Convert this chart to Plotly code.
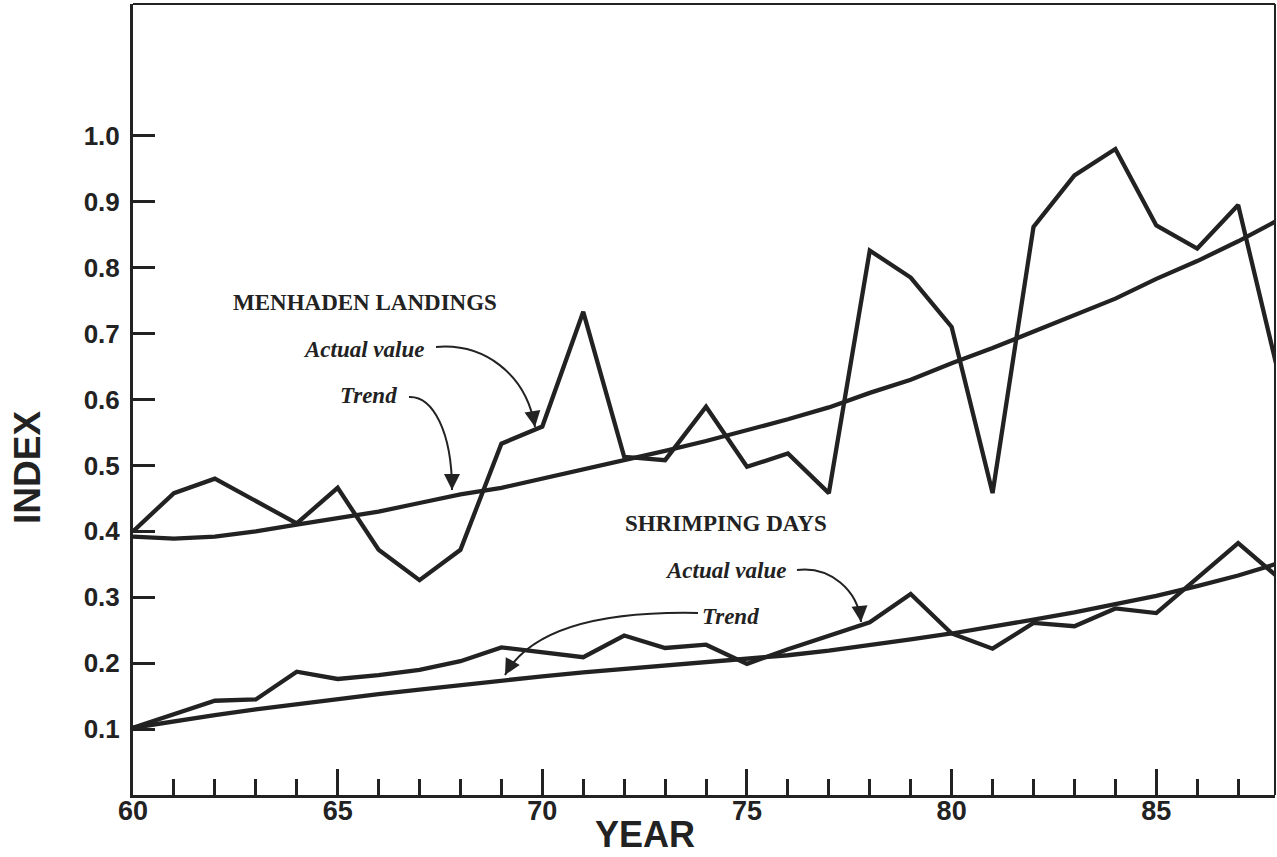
import plotly.graph_objects as go

# ---- data -------------------------------------------------------------
years = list(range(60, 89))

menhaden_actual = [0.400, 0.458, 0.480, 0.446, 0.412, 0.466, 0.372, 0.326, 0.372, 0.533,
                   0.559, 0.733, 0.513, 0.508, 0.589, 0.498, 0.518, 0.458, 0.826, 0.785,
                   0.710, 0.458, 0.862, 0.940, 0.980, 0.864, 0.829, 0.895, 0.635]

menhaden_trend = [0.392, 0.389, 0.392, 0.400, 0.410, 0.420, 0.430, 0.443, 0.456, 0.466,
                  0.480, 0.494, 0.507, 0.522, 0.537, 0.553, 0.570, 0.588, 0.610, 0.630,
                  0.655, 0.678, 0.703, 0.728, 0.753, 0.783, 0.810, 0.840, 0.873]

shrimp_actual = [0.102, 0.122, 0.143, 0.145, 0.187, 0.176, 0.182, 0.190, 0.203, 0.224,
                 0.216, 0.209, 0.242, 0.223, 0.228, 0.199, 0.221, 0.242, 0.262, 0.305,
                 0.245, 0.222, 0.261, 0.256, 0.283, 0.276, 0.330, 0.382, 0.329]

shrimp_trend = [0.102, 0.112, 0.121, 0.130, 0.138, 0.146, 0.153, 0.160, 0.167, 0.174,
                0.180, 0.186, 0.191, 0.196, 0.201, 0.206, 0.212, 0.219, 0.227, 0.236,
                0.245, 0.255, 0.266, 0.277, 0.289, 0.302, 0.317, 0.333, 0.352]

y_ticks = [0.1, 0.2, 0.3, 0.4, 0.5, 0.6, 0.7, 0.8, 0.9, 1.0]
y_tick_text = ["0.1", "0.2", "0.3", "0.4", "0.5", "0.6", "0.7", "0.8", "0.9", "1.0"]
x_major = [60, 65, 70, 75, 80, 85]
x_minor = list(range(61, 88))

# ---- layout geometry (figure pixels) -----------------------------------
W, H = 1277, 857
L, R, T, B = 133, 1275, 4, 795
X_RANGE = (60, 87.9)
Y_RANGE = (0, 1.2)
INK = "#222222"


def to_data(px, py):
    """Convert a figure-pixel position into axis data units."""
    x = X_RANGE[0] + (px - L) / (R - L) * (X_RANGE[1] - X_RANGE[0])
    y = Y_RANGE[0] + (B - py) / (B - T) * (Y_RANGE[1] - Y_RANGE[0])
    return x, y


fig = go.Figure()

for series in (menhaden_trend, menhaden_actual, shrimp_trend, shrimp_actual):
    fig.add_trace(go.Scatter(
        x=years, y=series, mode="lines",
        line=dict(color=INK, width=4.3),
        showlegend=False, hoverinfo="skip",
    ))

# ---- labels -------------------------------------------------------------
serif = "Liberation Serif, Times New Roman, serif"
labels = [
    ("MENHADEN LANDINGS", 365, 302, "normal"),
    ("Actual value", 363, 349, "italic"),
    ("Trend", 368, 395, "italic"),
    ("SHRIMPING DAYS", 726, 523, "normal"),
    ("Actual value", 725, 570, "italic"),
    ("Trend", 730, 616, "italic"),
]
annotations = []
for text, px, py, style in labels:
    x, y = to_data(px, py)
    annotations.append(dict(
        x=x, y=y, xref="x", yref="y", text=text, showarrow=False,
        font=dict(family=serif, size=23, color=INK, weight="bold", style=style),
        xanchor="center", yanchor="middle",
    ))

# ---- curved pointer arrows (cubic Béziers in pixel space) ---------------
curves = [
    [(436, 347), (482, 343), (526, 372), (535, 427)],
    [(409, 397), (433, 396), (452, 432), (452, 490)],
    [(797, 570), (830, 566), (858, 590), (861, 622)],
    [(698, 613), (598, 611), (530, 630), (505, 675)],
]
shapes = []
for pts in curves:
    d = [to_data(*p) for p in pts]
    path = "M {},{} C {},{} {},{} {},{}".format(
        d[0][0], d[0][1], d[1][0], d[1][1], d[2][0], d[2][1], d[3][0], d[3][1])
    shapes.append(dict(type="path", path=path, xref="x", yref="y",
                       line=dict(color=INK, width=2)))
    # arrowhead along the final tangent of the curve
    (cx, cy), (ex, ey) = pts[2], pts[3]
    dx, dy = ex - cx, ey - cy
    n = (dx * dx + dy * dy) ** 0.5
    tx, ty = to_data(ex, ey)
    annotations.append(dict(
        x=tx, y=ty, xref="x", yref="y", text="", showarrow=True,
        ax=-dx / n * 16, ay=-dy / n * 16,
        arrowhead=2, arrowsize=1.6, arrowwidth=2, arrowcolor=INK,
    ))

# frame: top and right edges
shapes.append(dict(type="line", xref="paper", yref="paper", x0=0, x1=1, y0=1, y1=1,
                   line=dict(color=INK, width=2)))
shapes.append(dict(type="line", xref="paper", yref="paper", x0=1, x1=1, y0=0, y1=1,
                   line=dict(color=INK, width=2)))

sans = "Liberation Sans, Arial, Helvetica, sans-serif"
annotations.append(dict(
    text="YEAR", x=(645 - L) / (R - L), y=(B - 856) / (B - T), xref="paper", yref="paper",
    showarrow=False, xanchor="center", yanchor="bottom", borderpad=0,
    font=dict(family=sans, size=36, color=INK, weight="bold"),
))
annotations.append(dict(
    text="INDEX", x=(27 - L) / (R - L), y=(B - 468) / (B - T), xref="paper", yref="paper",
    showarrow=False, xanchor="center", yanchor="middle", textangle=-90,
    font=dict(family=sans, size=37, color=INK, weight="bold"),
))

fig.update_layout(
    width=W, height=H,
    margin=dict(l=L, r=W - R, t=T, b=H - B, pad=0),
    paper_bgcolor="white", plot_bgcolor="white",
    shapes=shapes, annotations=annotations,
    xaxis=dict(
        range=list(X_RANGE), showgrid=False, zeroline=False,
        showline=True, linecolor=INK, linewidth=3,
        tickmode="array", tickvals=x_major, ticktext=[str(v) for v in x_major],
        ticks="inside", ticklen=26, tickwidth=2.5, tickcolor=INK,
        tickfont=dict(family=sans, size=27, color=INK, weight="bold"),
        ticklabelstandoff=-10,
        minor=dict(tickmode="array", tickvals=x_minor, ticks="inside",
                   ticklen=16, tickwidth=2.5, tickcolor=INK, showgrid=False),
    ),
    yaxis=dict(
        range=list(Y_RANGE), showgrid=False, zeroline=False,
        showline=True, linecolor=INK, linewidth=3,
        tickmode="array", tickvals=y_ticks, ticktext=y_tick_text,
        ticks="inside", ticklen=22, tickwidth=2.5, tickcolor=INK,
        tickfont=dict(family=sans, size=26, color=INK, weight="bold"),
        ticklabelstandoff=5,
    ),
)

fig.write_html("out.html")
